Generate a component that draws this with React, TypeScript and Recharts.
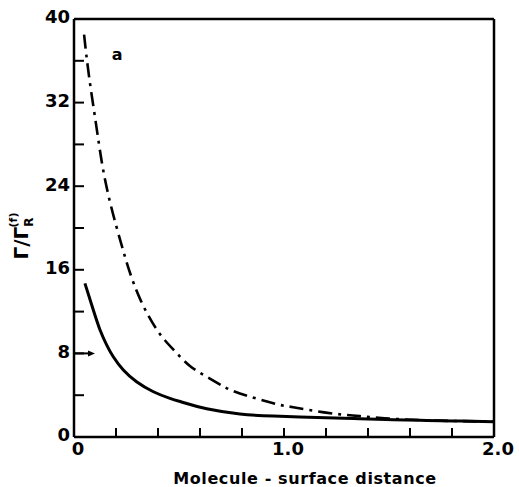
import { LineChart, Line, XAxis, YAxis, ReferenceLine, ReferenceDot, Label } from "recharts";

// distance values (x) and Γ/Γ_R(f) values
const solidX = [0.052, 0.092, 0.124, 0.156, 0.187, 0.235, 0.298, 0.378, 0.457, 0.524, 0.632, 0.79, 0.949, 1.2, 1.36, 1.52, 1.68, 1.84, 2.0];
const solidY = [14.7, 12.15, 10.24, 8.8, 7.68, 6.41, 5.29, 4.33, 3.7, 3.28, 2.7, 2.2, 2.0, 1.85, 1.75, 1.65, 1.58, 1.52, 1.47];

const dashX = [0.048, 0.071, 0.103, 0.135, 0.175, 0.222, 0.262, 0.317, 0.397, 0.476, 0.552, 0.632, 0.711, 0.79, 0.949, 1.044, 1.2, 1.36, 1.52, 1.68, 1.84, 2.0];
const dashY = [38.5, 34.6, 30.2, 26.0, 22.2, 18.7, 16.0, 13.1, 10.2, 8.3, 6.8, 5.77, 4.85, 4.17, 3.22, 2.85, 2.33, 2.0, 1.74, 1.6, 1.52, 1.47];

const xTicks = [0, 0.2, 0.4, 0.6, 0.8, 1.0, 1.2, 1.4, 1.6, 1.8, 2.0];
const xLabelled = [0, 1, 2];
const yTicks = [0, 4, 8, 12, 16, 20, 24, 28, 32, 36, 40];
const yLabelled = [0, 8, 16, 24, 32, 40];

// arrow marking the value 8 on the y axis
const arrowFrom = { x: 0, y: 8 };
const arrowTo = { x: 0.1, y: 8 };

const solidData = solidX.map((x, i) => ({ x, v: solidY[i] }));
const dashData = dashX.map((x, i) => ({ x, v: dashY[i] }));

const FONT = "'DejaVu Sans', sans-serif";
const axisStyle = { stroke: "#000", strokeWidth: 2.5 };
const tickLineStyle = { stroke: "#000", strokeWidth: 2 };
const tickStyle = { fill: "#000", fontSize: 18, fontWeight: 700, fontFamily: FONT };

const fmtX = (v: number) => {
  if (!xLabelled.some((t) => Math.abs(t - v) < 1e-6)) return "";
  return v === 0 ? "0" : v.toFixed(1);
};
const fmtY = (v: number) => (yLabelled.includes(v) ? String(v) : "");

const Arrow = (props: any) => {
  const { x1, y1, x2, y2 } = props;
  return (
    <g>
      <line x1={x1} y1={y1} x2={x2 - 4} y2={y2} stroke="#000" strokeWidth={2} />
      <polygon points={`${x2},${y2} ${x2 - 7},${y2 - 3} ${x2 - 7},${y2 + 3}`} fill="#000" />
    </g>
  );
};

const YTitle = (props: any) => {
  const vb = props.viewBox;
  const cx = vb.x - 45;
  const cy = vb.y + vb.height / 2 + 8;
  return (
    <text
      x={cx}
      y={cy}
      transform={`rotate(-90 ${cx} ${cy})`}
      textAnchor="middle"
      fontFamily={FONT}
      fontWeight={700}
      fontSize={20}
      fill="#000"
    >
      Γ/Γ
      <tspan dy={5} fontSize={12}>R</tspan>
      <tspan dx={-10} dy={-16} fontSize={11}>(f)</tspan>
    </text>
  );
};

const XTitle = (props: any) => {
  const vb = props.viewBox;
  return (
    <text
      x={vb.x + vb.width / 2 + 21}
      y={vb.y + 47}
      textAnchor="middle"
      fontFamily={FONT}
      fontWeight={700}
      fontSize={16}
      letterSpacing={0.6}
      fill="#000"
    >
      Molecule - surface distance
    </text>
  );
};

export default function App() {
  return (
    <div style={{ position: "absolute", left: 0, top: 0, background: "#fff" }}>
      <LineChart width={519} height={487} margin={{ top: 18, right: 24, bottom: 49, left: 73 }}>
        <XAxis
          xAxisId="b"
          dataKey="x"
          type="number"
          domain={[0, 2]}
          allowDataOverflow
          ticks={xTicks}
          interval={0}
          tickFormatter={fmtX}
          height={1}
          tickSize={-9}
          tickMargin={14}
          axisLine={axisStyle}
          tickLine={tickLineStyle}
          tick={{ ...tickStyle, dx: 4 }}
        >
          <Label content={<XTitle />} />
        </XAxis>
        <XAxis
          xAxisId="t"
          orientation="top"
          dataKey="x"
          type="number"
          domain={[0, 2]}
          allowDataOverflow
          ticks={xTicks}
          interval={0}
          height={1}
          tickSize={-9}
          axisLine={axisStyle}
          tickLine={tickLineStyle}
          tick={false}
        />
        <YAxis
          yAxisId="l"
          type="number"
          domain={[0, 40]}
          allowDataOverflow
          ticks={yTicks}
          interval={0}
          tickFormatter={fmtY}
          width={1}
          tickSize={-10}
          tickMargin={14}
          axisLine={axisStyle}
          tickLine={tickLineStyle}
          tick={{ ...tickStyle, dy: -2 }}
        >
          <Label content={<YTitle />} />
        </YAxis>
        <YAxis
          yAxisId="r"
          orientation="right"
          type="number"
          domain={[0, 40]}
          allowDataOverflow
          ticks={yTicks}
          interval={0}
          width={1}
          tickSize={-10}
          axisLine={axisStyle}
          tickLine={tickLineStyle}
          tick={false}
        />
        <Line
          xAxisId="b"
          yAxisId="l"
          data={dashData}
          dataKey="v"
          type="natural"
          stroke="#000"
          strokeWidth={2.6}
          strokeDasharray="14 6 3 6"
          dot={false}
          activeDot={false}
          isAnimationActive={false}
        />
        <Line
          xAxisId="b"
          yAxisId="l"
          data={solidData}
          dataKey="v"
          type="natural"
          stroke="#000"
          strokeWidth={3}
          dot={false}
          activeDot={false}
          isAnimationActive={false}
        />
        <ReferenceLine
          xAxisId="b"
          yAxisId="l"
          segment={[arrowFrom, arrowTo]}
          shape={<Arrow />}
          ifOverflow="visible"
        />
        <ReferenceDot
          xAxisId="b"
          yAxisId="l"
          x={0.205}
          y={36.6}
          r={0}
          fill="none"
          stroke="none"
          label={{ value: "a", position: "center", fill: "#000", fontSize: 16, fontWeight: 700, fontFamily: FONT }}
        />
      </LineChart>
    </div>
  );
}
